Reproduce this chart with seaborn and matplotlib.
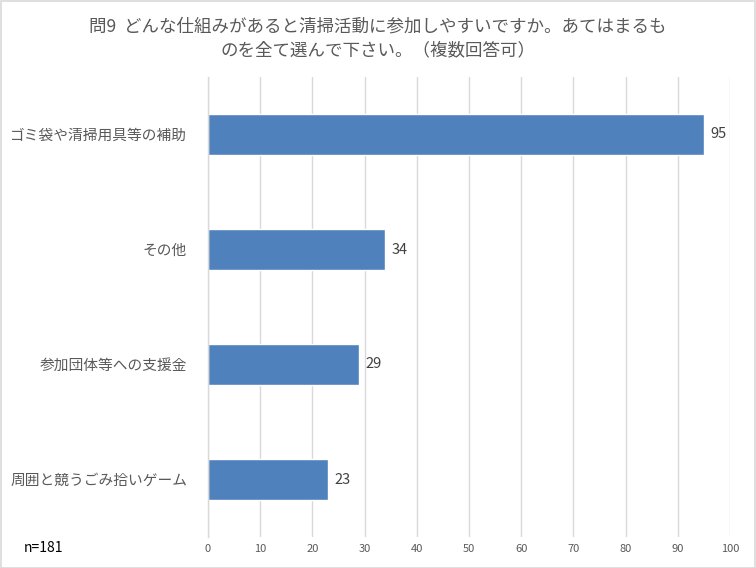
import matplotlib
matplotlib.use("Agg")
import matplotlib.pyplot as plt
import seaborn as sns
import pandas as pd

categories = ["ゴミ袋や清掃用具等の補助", "その他", "参加団体等への支援金", "周囲と競うごみ拾いゲーム"]
values = [95, 34, 29, 23]
xticks = list(range(0, 101, 10))
title = "問9  どんな仕組みがあると清掃活動に参加しやすいですか。あてはまるも\nのを全て選んで下さい。（複数回答可）"
note = "n=181"

sns.set_theme(style="white")
plt.rcParams['font.family'] = ['Noto Sans CJK JP', 'DejaVu Sans']

df = pd.DataFrame({"cat": categories, "val": values})

fig = plt.figure(figsize=(7.56, 5.68), dpi=100)
ax = fig.add_axes([208/756, 1-537/568, (730-208)/756, (537-77)/568])
sns.barplot(data=df, y="cat", x="val", color="#4F81BD", width=0.35, ax=ax, orient="h", saturation=1)

ax.set_xlim(0, 100)
ax.set_xticks(xticks)
ax.set_xticklabels([str(t) for t in xticks], fontsize=8, color="#595959")
ax.tick_params(axis="x", length=0, pad=5)
ax.tick_params(axis="y", length=0, pad=15, labelsize=10.6, labelcolor="#595959")
ax.set_xlabel("")
ax.set_ylabel("")
ax.xaxis.grid(True, color="#D9D9D9", linewidth=1)
ax.set_axisbelow(True)
for s in ["top", "right", "bottom"]:
    ax.spines[s].set_visible(False)
ax.spines["left"].set_color("#D9D9D9")
ax.spines["left"].set_linewidth(1)

for p, v in zip(ax.patches, values):
    y = p.get_y() + p.get_height() / 2
    ax.text(p.get_width() + 1.2, y, str(v), va="center", ha="left", fontsize=10.5, color="#404040")

fig.text(0.5, 1 - 38/568, title, ha="center", va="center", fontsize=12.6, color="#595959", linespacing=1.4)
fig.text(24/756, 1 - 548/568, note, ha="left", va="center", fontsize=10, color="#000000")

border = plt.Rectangle((0.5/756, 0.5/568), 1 - 1.5/756, 1 - 1.5/568, transform=fig.transFigure,
                       fill=False, edgecolor="#D9D9D9", linewidth=1.2)
fig.patches.append(border)

fig.savefig("out.png", dpi=100)
